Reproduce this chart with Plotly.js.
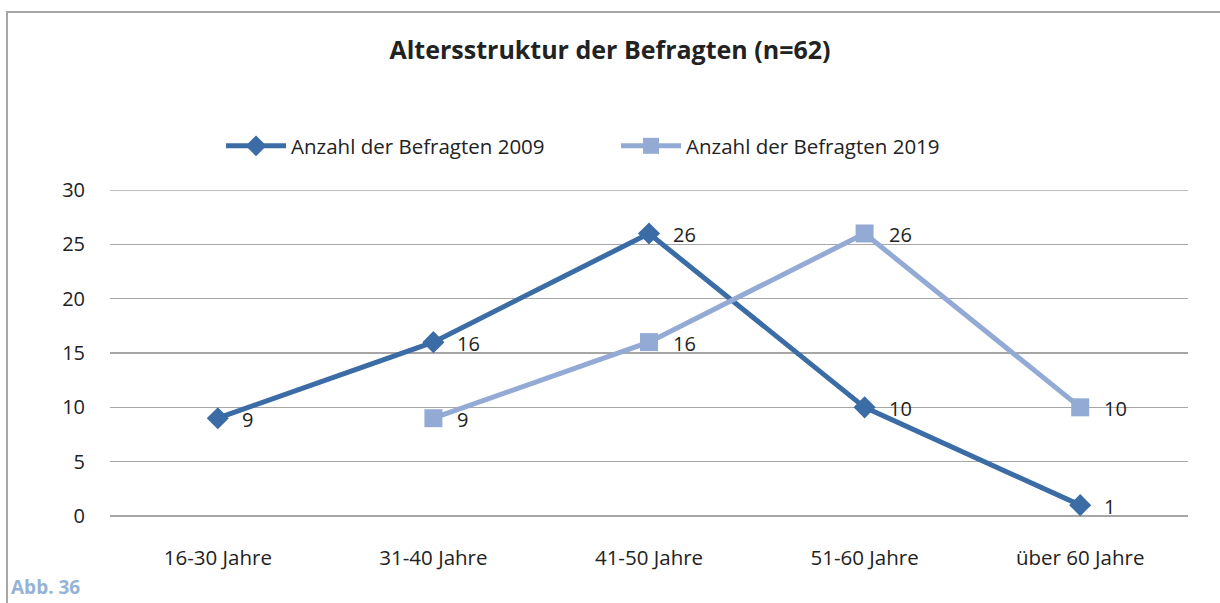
<!DOCTYPE html>
<html>
<head>
<meta charset="utf-8">
<script src="https://cdn.plot.ly/plotly-3.0.1.min.js"></script>
<style>html,body{margin:0;padding:0;background:#fff;}#chart{width:1220px;height:603px;}</style>
</head>
<body>
<div id="chart"></div>
<script>
const categories = ["16-30 Jahre", "31-40 Jahre", "41-50 Jahre", "51-60 Jahre", "über 60 Jahre"];
const values2009 = [9, 16, 26, 10, 1];
const values2019 = [null, 9, 16, 26, 10];
const name2009 = "Anzahl der Befragten 2009";
const name2019 = "Anzahl der Befragten 2019";
const chartTitle = "Altersstruktur der Befragten (n=62)";
const figureLabel = "Abb. 36";
const yTicks = [0, 5, 10, 15, 20, 25, 30];

const color2009 = "#3B6CA6";
const color2019 = "#93AAD4";
const gridColor = "#A6A6A6";
const fontFam = "'Open Sans', 'Noto Sans', sans-serif";

const traces = [
  {x: categories, y: values2009, name: name2009, type: "scatter", mode: "lines+markers",
   line: {color: color2009, width: 5}, marker: {symbol: "diamond", size: 17, color: color2009},
   cliponaxis: false},
  {x: categories, y: values2019, name: name2019, type: "scatter", mode: "lines+markers",
   line: {color: color2019, width: 5}, marker: {symbol: "square", size: 18, color: color2019},
   cliponaxis: false, connectgaps: false}
];

const annotations = [];
[values2009, values2019].forEach(vals => {
  vals.forEach((v, i) => {
    if (v === null) return;
    annotations.push({x: categories[i], y: v, xref: "x", yref: "y", text: String(v),
      showarrow: false, xanchor: "left", yanchor: "middle", xshift: 22, yshift: -1,
      font: {family: fontFam, size: 20, color: "#222"}});
  });
});
annotations.push({text: "<b>" + figureLabel + "</b>", xref: "paper", yref: "paper",
  x: -0.093, y: (516 - 601) / 326, xanchor: "left", yanchor: "bottom", showarrow: false,
  borderpad: 0, font: {family: fontFam, size: 19, color: "#95B3D7"}});

const yMax = yTicks[yTicks.length - 1];

const layout = {
  width: 1220, height: 603,
  margin: {l: 110, r: 32, t: 190, b: 87},
  paper_bgcolor: "#fff", plot_bgcolor: "#fff",
  font: {family: fontFam, size: 20, color: "#222"},
  title: {text: "<b>" + chartTitle + "</b>", xref: "container", x: 0.5, xanchor: "center",
    yref: "container", y: 1 - 50/603, yanchor: "middle",
    font: {family: fontFam, size: 25, color: "#222"}},
  showlegend: true,
  legend: {orientation: "h", x: 0.103, xanchor: "left", y: 1.135, yanchor: "middle",
    entrywidth: 320, entrywidthmode: "pixels",
    font: {family: fontFam, size: 20.5, color: "#222"}, itemwidth: 60, traceorder: "normal"},
  xaxis: {type: "category", range: [-0.5, 4.5], showgrid: false, zeroline: false,
    showline: false, ticks: "", ticklabelstandoff: 27,
    tickfont: {family: fontFam, size: 20.5, color: "#222"}},
  yaxis: {range: [0, yMax], tickvals: yTicks, showgrid: true, gridcolor: gridColor, gridwidth: 1.5,
    zeroline: true, zerolinecolor: gridColor, zerolinewidth: 1.5, showline: false, ticks: "",
    ticklabelstandoff: 24, tickfont: {family: fontFam, size: 20, color: "#222"}},
  annotations: annotations,
  shapes: [
    {type: "rect", xref: "paper", yref: "paper",
     x0: (7 - 110) / 1078, x1: 1.2, y0: -0.4, y1: (516 - 12) / 326,
     line: {color: gridColor, width: 2}, layer: "below"},
    {type: "line", xref: "paper", yref: "y", x0: 0, x1: 1, y0: yMax, y1: yMax,
     line: {color: gridColor, width: 1.5}, layer: "below"}
  ]
};

Plotly.newPlot("chart", traces, layout, {displayModeBar: false, staticPlot: true});
</script>
</body>
</html>
